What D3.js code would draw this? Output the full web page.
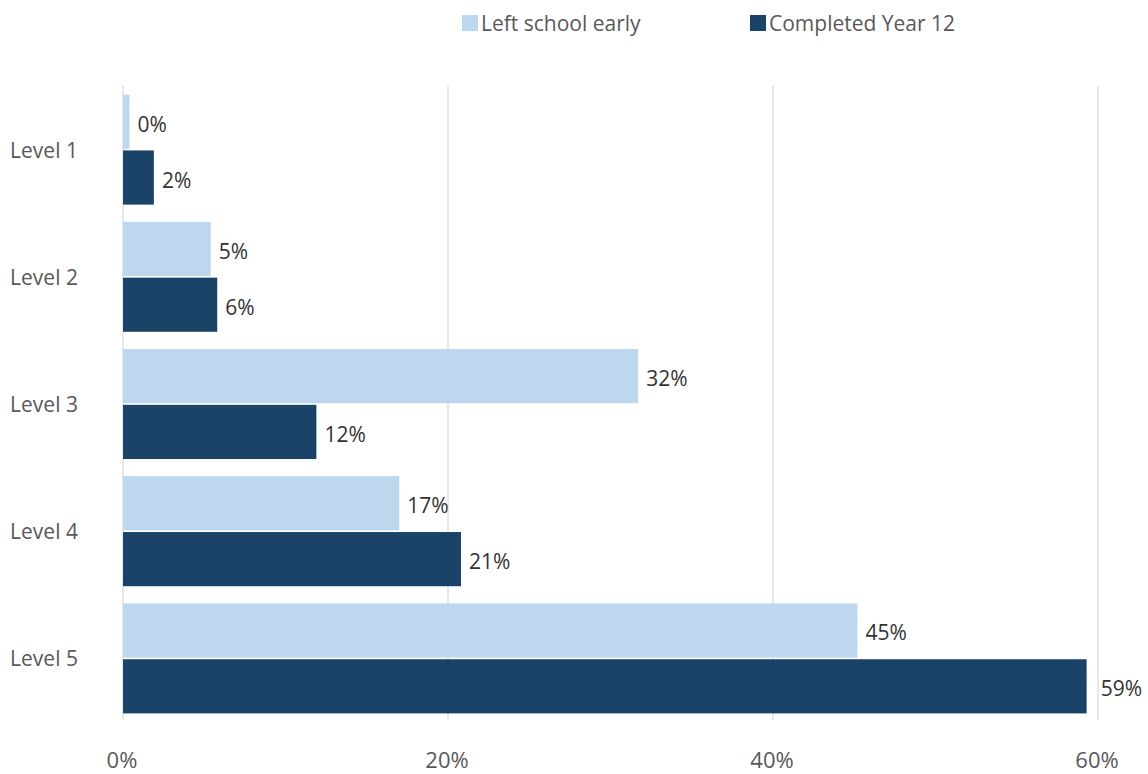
<!DOCTYPE html>
<html>
<head>
<meta charset="utf-8">
<script src="https://cdn.jsdelivr.net/npm/d3@7"></script>
<style>
  body { margin: 0; background: #fff; }
  text { font-family: "Open Sans", "Noto Sans", sans-serif; }
</style>
</head>
<body>
<div id="chart"></div>
<script>
// values (percent)
var levels = ["Level 1", "Level 2", "Level 3", "Level 4", "Level 5"];
var seriesNames = ["Left school early", "Completed Year 12"];
var leftEarly = [0.4, 5.4, 31.7, 17.0, 45.2];
var completed = [1.9, 5.8, 11.9, 20.8, 59.3];
var ticks = [0, 20, 40, 60];
var colors = ["#bdd7ee", "#1b4368"];

var width = 1148, height = 774;

var svg = d3.select("#chart").append("svg")
    .attr("width", width)
    .attr("height", height);

var x = d3.scaleLinear()
    .domain([0, 60])
    .range([123, 1098]);

var y = d3.scaleBand()
    .domain(levels)
    .range([86, 722])
    .paddingInner(0.135)
    .paddingOuter(0.0675);

var ySub = d3.scaleBand()
    .domain([0, 1])
    .range([0, y.bandwidth()])
    .paddingInner(0.03);

// gridlines
svg.append("g")
    .selectAll("line")
    .data(ticks)
    .enter().append("line")
    .attr("x1", function (d) { return x(d); })
    .attr("x2", function (d) { return x(d); })
    .attr("y1", 86)
    .attr("y2", 720)
    .attr("stroke", "#d9d9d9")
    .attr("stroke-width", 1.2);

// x tick labels
svg.append("g")
    .selectAll("text")
    .data(ticks)
    .enter().append("text")
    .attr("x", function (d) { return x(d) - 1; })
    .attr("y", 768)
    .attr("text-anchor", "middle")
    .style("font-size", "22px")
    .style("fill", "#595959")
    .text(function (d) { return d + "%"; });

var rows = levels.map(function (lv, i) {
    return { level: lv, values: [leftEarly[i], completed[i]] };
});

var group = svg.selectAll(".level")
    .data(rows)
    .enter().append("g")
    .attr("class", "level")
    .attr("transform", function (d) { return "translate(0," + y(d.level) + ")"; });

group.selectAll("rect")
    .data(function (d) { return d.values; })
    .enter().append("rect")
    .attr("x", x(0))
    .attr("y", function (d, i) { return ySub(i); })
    .attr("width", function (d) { return x(d) - x(0); })
    .attr("height", ySub.bandwidth())
    .attr("fill", function (d, i) { return colors[i]; });

group.selectAll(".val")
    .data(function (d) { return d.values; })
    .enter().append("text")
    .attr("class", "val")
    .attr("x", function (d) { return x(d) + (d > 55 ? 14 : 8); })
    .attr("y", function (d, i) { return ySub(i) + ySub.bandwidth() / 2 + 10; })
    .style("font-size", "21px")
    .style("fill", "#333")
    .text(function (d) { return Math.round(d) + "%"; });

// level labels
group.append("text")
    .attr("x", 44)
    .attr("y", y.bandwidth() / 2 + 8)
    .attr("text-anchor", "middle")
    .style("font-size", "21px")
    .style("fill", "#595959")
    .text(function (d) { return d.level; });

// legend
var legendX = [462, 750];
var legend = svg.selectAll(".legend")
    .data(seriesNames)
    .enter().append("g")
    .attr("class", "legend")
    .attr("transform", function (d, i) { return "translate(" + legendX[i] + ",0)"; });

legend.append("rect")
    .attr("x", 0)
    .attr("y", 15)
    .attr("width", 16)
    .attr("height", 16)
    .attr("fill", function (d, i) { return colors[i]; });

legend.append("text")
    .attr("x", 19)
    .attr("y", 31)
    .style("font-size", "21px")
    .style("fill", "#595959")
    .text(function (d) { return d; });
</script>
</body>
</html>
